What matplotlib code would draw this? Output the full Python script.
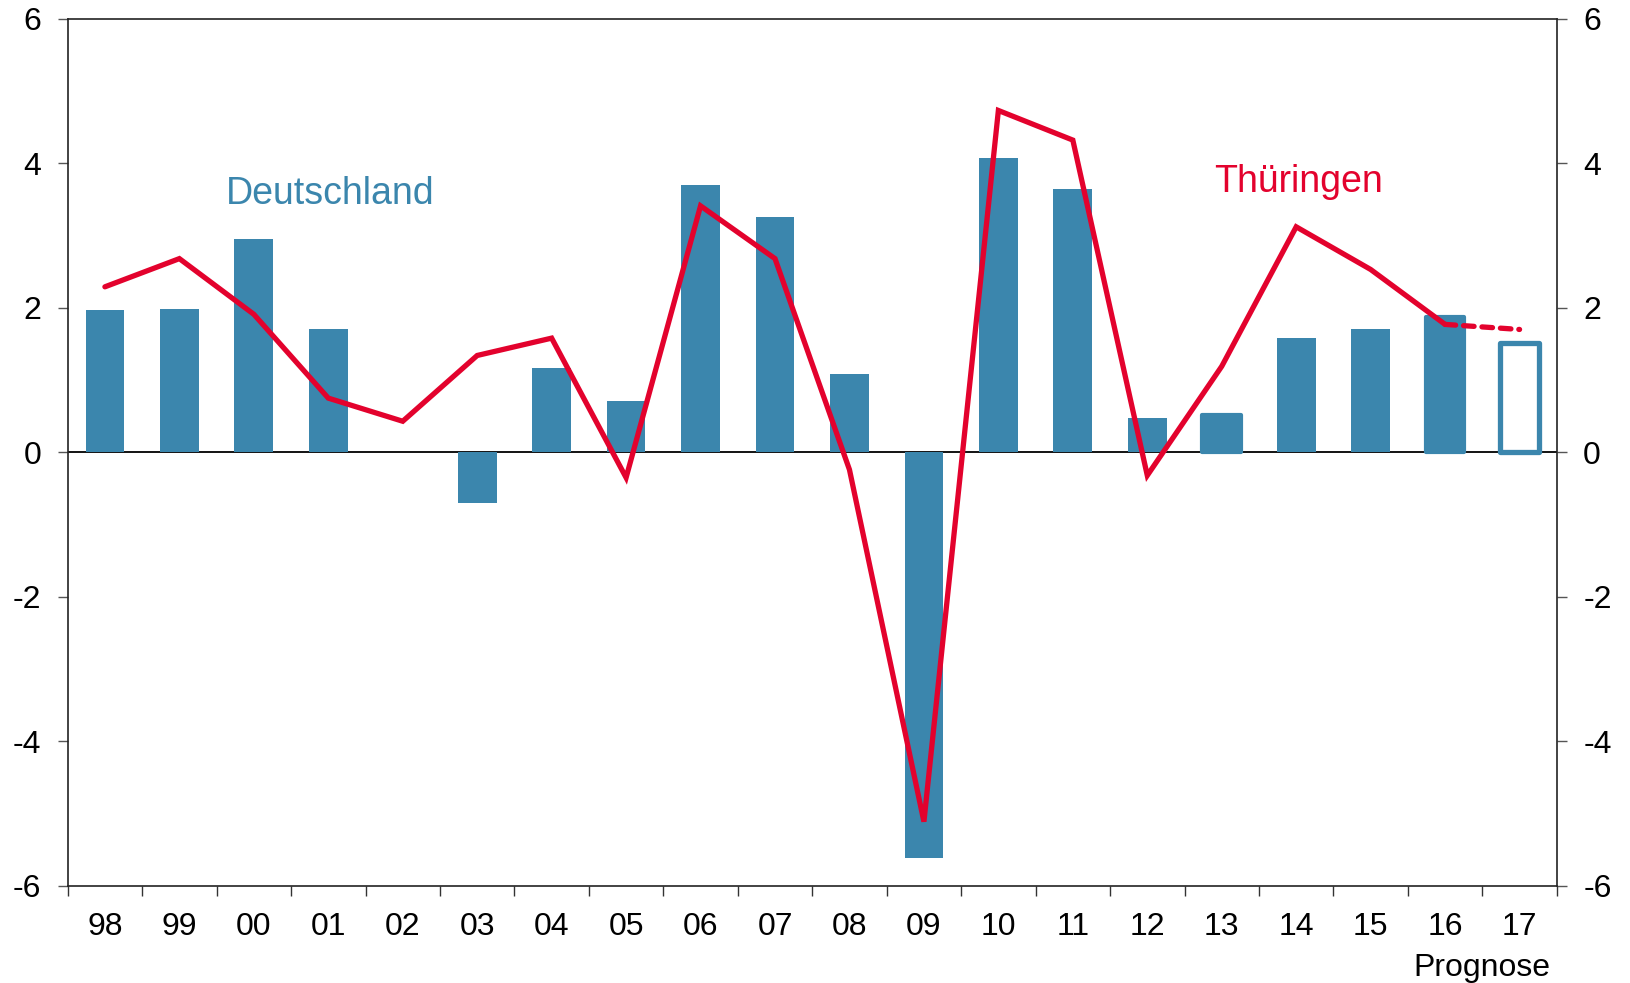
import matplotlib
matplotlib.use("Agg")
import matplotlib.pyplot as plt
import numpy as np

plt.rcParams['font.family'] = ['Liberation Sans', 'DejaVu Sans']

years = ["98", "99", "00", "01", "02", "03", "04", "05", "06", "07",
         "08", "09", "10", "11", "12", "13", "14", "15", "16", "17"]
deutschland = [1.97, 1.98, 2.95, 1.70, 0.0, -0.70, 1.17, 0.71, 3.70, 3.25,
               1.08, -5.61, 4.07, 3.65, 0.47, 0.52, 1.58, 1.71, 1.87, 1.51]
thueringen = [2.29, 2.68, 1.91, 0.75, 0.43, 1.34, 1.58, -0.35, 3.41, 2.68,
              -0.24, -5.11, 4.73, 4.32, -0.32, 1.19, 3.12, 2.53, 1.77, 1.70]
yticks = [-6, -4, -2, 0, 2, 4, 6]

blue = "#3B86AD"
red = "#E3022D"

fig = plt.figure(figsize=(16.31, 9.83), dpi=100)
ax = fig.add_axes([0.0415, 0.0987, 0.913, 0.8823])

x = np.arange(len(years))
n = len(years)
# filled bars (actual values)
for i in range(n - 1):
    edge = blue if i in (15, 18) else "none"
    ax.bar(x[i], deutschland[i], width=0.52, color=blue, edgecolor=edge,
           linewidth=3.0 if edge != "none" else 0, joinstyle="round", zorder=2)
# forecast bar (hollow)
ax.bar(x[-1], deutschland[-1], width=0.52, facecolor="white", edgecolor=blue,
       linewidth=3.8, joinstyle="round", zorder=2)

ax.axhline(0, color="black", linewidth=1.3, zorder=1)

# Thüringen line
ax.plot(x[:-1], thueringen[:-1], color=red, linewidth=3.8, zorder=3,
        solid_capstyle="round", solid_joinstyle="miter")
ax.plot(x[-2:], thueringen[-2:], color=red, linewidth=3.8, zorder=3,
        linestyle=(0, (2.0, 1.5)), dash_capstyle="round")

ax.set_xlim(-0.5, n - 0.5)
ax.set_ylim(-6, 6)

ax.set_xticks(np.arange(-0.5, n, 1.0))
ax.set_xticklabels([])
ax.set_xticks(x, minor=True)
ax.set_xticklabels(years, minor=True)
ax.tick_params(axis="x", which="major", direction="out", length=7, width=1.0, color="#333333")
ax.tick_params(axis="x", which="minor", length=0, pad=19, labelsize=23)

ax.set_yticks(yticks)
ax.set_yticklabels([str(v) for v in yticks])
ax.tick_params(axis="y", which="major", direction="out", length=7, width=1.0,
               color="#555555", pad=12, labelsize=23, left=True, right=True,
               labelleft=True, labelright=True)

for s in ax.spines.values():
    s.set_linewidth(1.2)
    s.set_color("#222222")

ax.text(3.03, 3.58, "Deutschland", color=blue, fontsize=27, ha="center", va="center")
ax.text(16.03, 3.74, "Thüringen", color=red, fontsize=27, ha="center", va="center")
ax.text(18.5, -7.13, "Prognose", color="black", fontsize=23, ha="center", va="center",
        clip_on=False)

fig.savefig("out.png", dpi=100)
